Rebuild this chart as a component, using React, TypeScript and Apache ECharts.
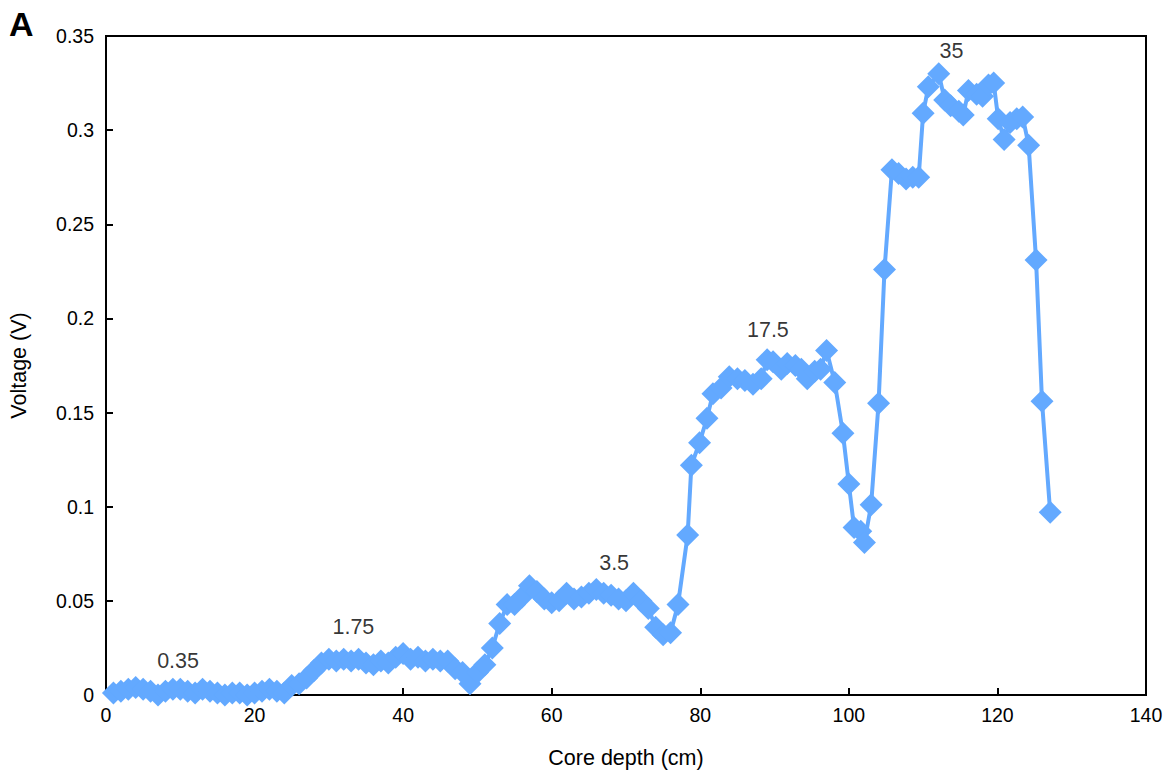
import React, { useEffect, useRef } from "react";
import * as echarts from "echarts";

const depth = [
  1, 2, 3, 4, 5, 6, 7, 8, 9, 10, 11, 12, 13, 14, 15, 16, 17, 18, 19, 20,
  21, 22, 23, 24, 25, 26, 27, 28, 29, 30, 31, 32, 33, 34, 35, 36, 37, 38, 39, 40,
  41, 42, 43, 44, 45, 46, 47, 48, 49, 50, 51, 52, 53, 54, 55, 56, 57, 58, 59, 60,
  61, 62, 63, 64, 65, 66, 67, 68, 69, 70, 71, 72, 73, 74, 75, 76, 77, 78.3, 78.8, 79.9,
  80.9, 81.7, 82.8, 83.9, 85, 86, 87.1, 88.2, 89, 89.8, 90.9, 91.7, 92.8, 93.6, 94.4, 95.4,
  96.2, 97, 98.1, 99.2, 100, 100.7, 101.6, 102.1, 103, 104, 104.8, 105.8, 106.7, 107.7, 108.6, 109.4,
  110, 110.7, 112.1, 112.9, 113.7, 114.8, 115.4, 116.1, 117.2, 118, 118.8, 119.5, 120.1, 120.9, 121.7, 122.6,
  123.4, 124.2, 125.2, 126, 127.1,
];

const voltage = [
  0.001, 0.002, 0.003, 0.004, 0.003, 0.002, 0.0, 0.002, 0.003, 0.003, 0.002, 0.001, 0.003, 0.002, 0.001, 0.0, 0.001, 0.001, 0.0, 0.001,
  0.002, 0.003, 0.002, 0.001, 0.005, 0.006, 0.009, 0.013, 0.017, 0.019, 0.018, 0.019, 0.018, 0.019, 0.017, 0.016, 0.018, 0.017, 0.02, 0.022,
  0.019, 0.02, 0.018, 0.019, 0.018, 0.018, 0.014, 0.012, 0.006, 0.012, 0.016, 0.025, 0.038, 0.048, 0.048, 0.052, 0.058, 0.055, 0.051, 0.049,
  0.05, 0.054, 0.051, 0.052, 0.054, 0.056, 0.054, 0.053, 0.051, 0.05, 0.054, 0.05, 0.046, 0.036, 0.032, 0.033, 0.048, 0.085, 0.122, 0.134,
  0.147, 0.16, 0.163, 0.169, 0.168, 0.167, 0.165, 0.168, 0.178, 0.177, 0.173, 0.176, 0.175, 0.173, 0.168, 0.172,
  0.173, 0.183, 0.166, 0.139, 0.112, 0.089, 0.087, 0.081, 0.101, 0.155, 0.226, 0.279, 0.277, 0.274, 0.275, 0.275,
  0.309, 0.323, 0.33, 0.316, 0.313, 0.31, 0.308, 0.321, 0.319, 0.318, 0.324, 0.325, 0.306, 0.295, 0.304, 0.306,
  0.307, 0.292, 0.231, 0.156, 0.097,
];

const annotText = ["0.35", "1.75", "3.5", "17.5", "35"];
const annotX = [9.7, 33.3, 68.4, 89.1, 113.8];
const annotY = [0.018, 0.036, 0.07, 0.194, 0.342];

const xTicks = { min: 0, max: 140, interval: 20 };
const yTicks = { min: 0, max: 0.35, interval: 0.05 };

export default function App() {
  const ref = useRef<HTMLDivElement>(null);
  useEffect(() => {
    if (!ref.current) return;
    const chart = echarts.init(ref.current, undefined, { renderer: "svg" });
    const font = "'Liberation Sans', Arial, Helvetica, sans-serif";
    chart.setOption({
      animation: false,
      backgroundColor: "#ffffff",
      textStyle: { fontFamily: font },
      grid: {
        left: 103,
        right: 23,
        top: 36,
        bottom: 79,
        show: true,
        borderColor: "#000",
        borderWidth: 2,
        containLabel: false,
      },
      graphic: [
        {
          type: "text",
          left: 9,
          top: 7,
          style: { text: "A", font: `bold 34px ${font}`, fill: "#000" },
        },
      ],
      xAxis: {
        type: "value",
        min: xTicks.min,
        max: xTicks.max,
        interval: xTicks.interval,
        name: "Core depth (cm)",
        nameLocation: "middle",
        nameGap: 52,
        nameTextStyle: { fontSize: 21.5, color: "#000", fontFamily: font },
        axisLine: { show: true, lineStyle: { color: "#000", width: 2 } },
        axisTick: { show: true, inside: true, length: 7, lineStyle: { color: "#000", width: 2 } },
        axisLabel: { fontSize: 19.5, color: "#000", margin: 10, fontFamily: font },
        splitLine: { show: false },
      },
      yAxis: {
        type: "value",
        min: yTicks.min,
        max: yTicks.max,
        interval: yTicks.interval,
        name: "Voltage (V)",
        nameLocation: "middle",
        nameGap: 76,
        nameRotate: 90,
        nameTextStyle: { fontSize: 21.5, color: "#000", fontFamily: font },
        axisLine: { show: true, lineStyle: { color: "#000", width: 2 } },
        axisTick: { show: true, inside: true, length: 7, lineStyle: { color: "#000", width: 2 } },
        axisLabel: { fontSize: 19.5, color: "#000", margin: 12, fontFamily: font },
        splitLine: { show: false },
      },
      series: [
        {
          type: "line",
          data: depth.map((d, i) => [d, voltage[i]]),
          symbol: "diamond",
          symbolSize: 23,
          showAllSymbol: true,
          lineStyle: { color: "#63a9ff", width: 4 },
          itemStyle: { color: "#63a9ff" },
          z: 2,
        },
        {
          type: "scatter",
          data: annotText.map((t, i) => ({ name: t, value: [annotX[i], annotY[i]] })),
          symbolSize: 1,
          itemStyle: { color: "rgba(0,0,0,0)" },
          label: {
            show: true,
            position: "inside",
            formatter: (p: any) => p.name,
            fontSize: 21.5,
            color: "#000",
            textBorderWidth: 0,
            fontFamily: font,
          },
          z: 3,
        },
      ],
    });
    return () => chart.dispose();
  }, []);
  return (
    <div
      ref={ref}
      style={{ position: "fixed", left: 0, top: 0, width: 1169, height: 774 }}
    />
  );
}
